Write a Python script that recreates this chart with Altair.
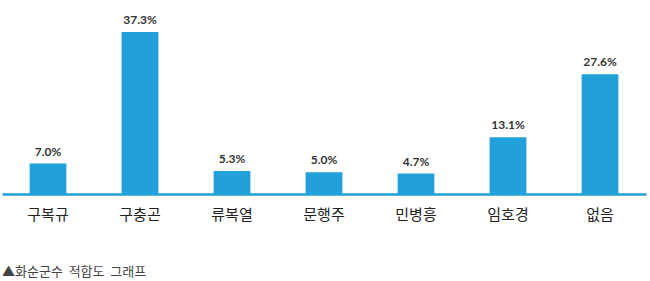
import altair as alt
import pandas as pd

categories = ["구복규", "구충곤", "류복열", "문행주", "민병흥", "임호경", "없음"]
values = [7.0, 37.3, 5.3, 5.0, 4.7, 13.1, 27.6]
labels = ["7.0%", "37.3%", "5.3%", "5.0%", "4.7%", "13.1%", "27.6%"]
caption = "▲화순군수\u00a0\u00a0적합도\u00a0\u00a0그래프"

df = pd.DataFrame({"cat": categories, "val": values, "lab": labels})

BLUE = "#22a0da"

x = alt.X("cat:N", sort=categories, title=None,
          scale=alt.Scale(paddingInner=0.6, paddingOuter=0.3),
          axis=alt.Axis(labelAngle=0, ticks=False, domainColor=BLUE, domainWidth=2.5,
                        labelFont="Noto Sans CJK KR", labelFontSize=15, labelColor="#222222",
                        labelPadding=13))
y = alt.Y("val:Q", title=None, scale=alt.Scale(domain=[0, 44.7], nice=False), axis=None)

bars = alt.Chart(df).mark_bar(color=BLUE).encode(x=x, y=y)
text = alt.Chart(df).mark_text(dy=-12, font="Lato", fontSize=12, fontWeight="bold",
                               color="#333333").encode(x=x, y=y, text="lab:N")

chart = alt.layer(bars, text).properties(
    width=644, height=194,
    autosize=alt.AutoSizeParams(type="none"),
    padding={"left": 2, "top": 0, "right": 4, "bottom": 87},
    title=alt.TitleParams(caption, orient="bottom", anchor="start", font="Noto Sans CJK KR",
                          fontSize=13, fontWeight="normal", color="#444444", offset=44, dx=0),
).configure_view(stroke=None)

chart.save("out.html", embed_options={"renderer": "svg", "actions": False})
